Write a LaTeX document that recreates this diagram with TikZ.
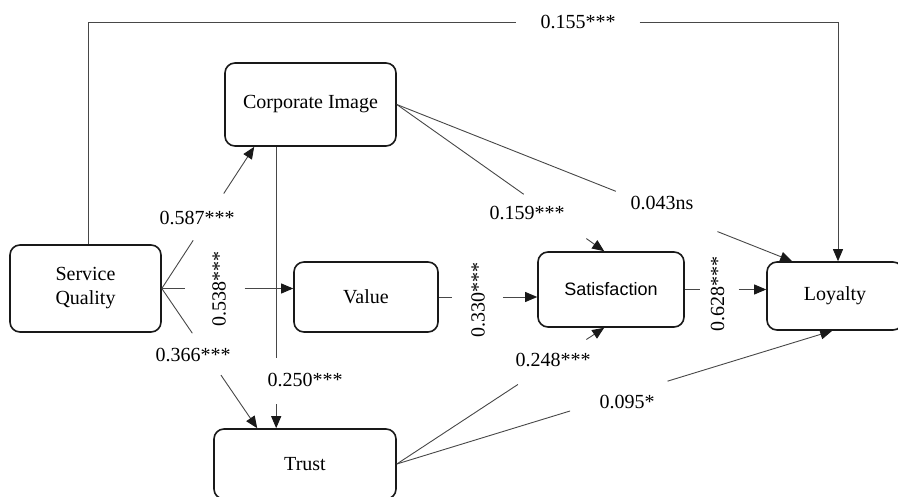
\documentclass[tikz,border=0pt]{standalone}
\usepackage{fontspec}
\setmainfont{Liberation Serif}
\setsansfont{Liberation Sans}
\usetikzlibrary{arrows.meta}

\begin{document}
\begin{tikzpicture}[x=1pt, y=-1pt,
    box/.style={draw=black!90, line width=1.6pt, rounded corners=10pt, align=center,
      font=\fontsize{20}{24}\selectfont},
    coef/.style={font=\fontsize{20}{24}\selectfont, inner sep=0pt},
    edgeline/.style={draw=black!72, line width=0.9pt},
    edgearrow/.style={edgeline, -{Triangle[length=12pt, width=10pt, color=black!90]}}]
    \useasboundingbox (0,0) rectangle (898,497);

    % constructs
    \node[box, minimum width=171pt, minimum height=83pt] (ci) at (310.5,104.5) {Corporate Image};
    \node[box, minimum width=151pt, minimum height=87pt] (sq) at (85.5,288.5) {Service\\Quality};
    \node[box, minimum width=144pt, minimum height=70pt] (val) at (366,297) {Value};
    \node[box, minimum width=182pt, minimum height=70pt] (tr) at (305,464) {Trust};
    \node[box, minimum width=146pt, minimum height=75pt, font=\sffamily\fontsize{18}{22}\selectfont]
      (sat) at (611,289.5) {Satisfaction};
    \node[box, minimum width=136pt, minimum height=68pt] (loy) at (835,296) {Loyalty};

    % path coefficients
    \node[coef, inner xsep=24pt] (l155) at (578,22) {0.155***};
    \node[coef] (l587) at (197,218) {0.587***};
    \node[coef, rotate=90] (l538) at (219,289) {0.538***};
    \node[coef] (l366) at (193,355) {0.366***};
    \node[coef] (l250) at (305,380) {0.250***};
    \node[coef, rotate=90] (l330) at (478,300) {0.330***};
    \node[coef] (l159) at (527,213) {0.159***};
    \node[coef] (l043) at (662,203) {0.043ns};
    \node[coef, rotate=90] (l628) at (717.5,294) {0.628***};
    \node[coef] (l248) at (553,360) {0.248***};
    \node[coef] (l095) at (627,402) {0.095*};

    % gaps left for the coefficients
    \path (sq.east) -- coordinate[pos=.34] (a1) coordinate[pos=.67] (a2) ([xshift=30pt]ci.south west);
    \path (sq.east) -- coordinate[pos=.18] (b1) coordinate[pos=.63] (b2) (sq.east -| val.west);
    \path (sq.east) -- coordinate[pos=.32] (c1) coordinate[pos=.62] (c2) ([xshift=44pt]tr.north west);
    \path ([xshift=52pt]ci.south west) -- coordinate[pos=.75] (d1) coordinate[pos=.915] (d2)
      ([xshift=63pt]tr.north west);
    \path (val.east) -- coordinate[pos=.13] (e1) coordinate[pos=.65] (e2) (val.east -| sat.west);
    \path (ci.east) -- coordinate[pos=.612] (f1) coordinate[pos=.914] (f2) ([xshift=67pt]sat.north west);
    \path (ci.east) -- coordinate[pos=.554] (g1) coordinate[pos=.811] (g2) ([xshift=26pt]loy.north west);
    \path (sat.east) -- coordinate[pos=.19] (h1) coordinate[pos=.66] (h2) (sat.east -| loy.west);
    \path (tr.east) -- coordinate[pos=.584] (k1) coordinate[pos=.914] (k2) ([xshift=67pt]sat.south west);
    \path (tr.east) -- coordinate[pos=.398] (m1) coordinate[pos=.622] (m2) ([xshift=66pt]loy.south west);

    % connectors
    \draw[edgeline] ([xshift=2.5pt]sq.north) |- (l155);
    \draw[edgearrow] (l155) -| ([xshift=3pt]loy.north);
    \draw[edgeline] (sq.east) -- (a1);
    \draw[edgearrow] (a2) -- ([xshift=30pt]ci.south west);
    \draw[edgeline] (sq.east) -- (b1);
    \draw[edgearrow] (b2) -- (sq.east -| val.west);
    \draw[edgeline] (sq.east) -- (c1);
    \draw[edgearrow] (c2) -- ([xshift=44pt]tr.north west);
    \draw[edgeline] ([xshift=52pt]ci.south west) -- (d1);
    \draw[edgearrow] (d2) -- ([xshift=63pt]tr.north west);
    \draw[edgeline] (val.east) -- (e1);
    \draw[edgearrow] (e2) -- (val.east -| sat.west);
    \draw[edgeline] (ci.east) -- (f1);
    \draw[edgearrow] (f2) -- ([xshift=67pt]sat.north west);
    \draw[edgeline] (ci.east) -- (g1);
    \draw[edgearrow] (g2) -- ([xshift=26pt]loy.north west);
    \draw[edgeline] (sat.east) -- (h1);
    \draw[edgearrow] (h2) -- (sat.east -| loy.west);
    \draw[edgeline] (tr.east) -- (k1);
    \draw[edgearrow] (k2) -- ([xshift=67pt]sat.south west);
    \draw[edgeline] (tr.east) -- (m1);
    \draw[edgearrow] (m2) -- ([xshift=66pt]loy.south west);
\end{tikzpicture}
\end{document}
